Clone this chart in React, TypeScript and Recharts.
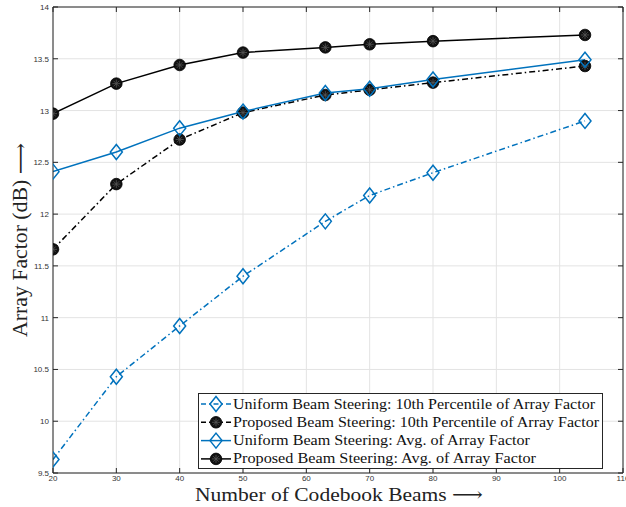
import React from 'react';
import { LineChart, Line, XAxis, YAxis, CartesianGrid, Legend } from 'recharts';

const beams = [20, 30, 40, 50, 63, 70, 80, 104];
const uniform10th = [9.63, 10.43, 10.92, 11.4, 11.93, 12.18, 12.4, 12.9];
const proposed10th = [11.66, 12.29, 12.72, 12.98, 13.15, 13.2, 13.27, 13.43];
const uniformAvg = [12.41, 12.6, 12.83, 12.99, 13.17, 13.21, 13.3, 13.49];
const proposedAvg = [12.97, 13.26, 13.44, 13.56, 13.61, 13.64, 13.67, 13.73];
const xTicks = [20, 30, 40, 50, 60, 70, 80, 90, 100, 110];
const yTicks = [9.5, 10, 10.5, 11, 11.5, 12, 12.5, 13, 13.5, 14];

const BLUE = '#0072BD';
const DASHDOT = '6 3 1.5 3';

const series = [
  { key: 'u10', name: 'Uniform Beam Steering: 10th Percentile of Array Factor', color: BLUE, dash: DASHDOT, marker: 'diamond', len: 362 },
  { key: 'p10', name: 'Proposed Beam Steering: 10th Percentile of Array Factor', color: '#000', dash: DASHDOT, marker: 'circle', len: 366 },
  { key: 'uavg', name: 'Uniform Beam Steering: Avg. of Array Factor', color: BLUE, dash: undefined, marker: 'diamond', len: 297 },
  { key: 'pavg', name: 'Proposed Beam Steering: Avg. of Array Factor', color: '#000', dash: undefined, marker: 'circle', len: 303 },
];

const data = beams.map((b, i) => ({
  beams: b,
  u10: uniform10th[i],
  p10: proposed10th[i],
  uavg: uniformAvg[i],
  pavg: proposedAvg[i],
}));

const TICK_FONT = 'Liberation Sans, Arial, sans-serif';
const SERIF = 'Liberation Serif, DejaVu Serif, serif';
const AXIS = '#262626';

function Marker({ type, cx, cy }: { type: string; cx: number; cy: number }) {
  if (type === 'diamond') {
    const w = 6, h = 7.5;
    return (
      <path
        d={`M${cx},${cy - h} L${cx + w},${cy} L${cx},${cy + h} L${cx - w},${cy} Z`}
        fill="none"
        stroke={BLUE}
        strokeWidth={1.5}
      />
    );
  }
  const r = 5.8;
  const a = 4;
  const d = a * 0.707;
  return (
    <g>
      <circle cx={cx} cy={cy} r={r} fill="#111" stroke="#000" strokeWidth={0.8} />
      <path
        d={`M${cx - a},${cy} L${cx + a},${cy} M${cx},${cy - a} L${cx},${cy + a} M${cx - d},${cy - d} L${cx + d},${cy + d} M${cx - d},${cy + d} L${cx + d},${cy - d}`}
        stroke="#555"
        strokeWidth={0.8}
      />
    </g>
  );
}

const makeDot = (type: string) => (props: any) => {
  const { cx, cy, index } = props;
  if (cx == null || cy == null) return <g key={index} />;
  return <Marker key={index} type={type} cx={cx} cy={cy} />;
};

const LeftTick = (props: any) => {
  const { x, y, payload } = props;
  return (
    <g>
      <line x1={x} y1={y} x2={x + 5} y2={y} stroke={AXIS} strokeWidth={1} />
      <text x={x - 4} y={y + 3} textAnchor="end" fontSize={8} fontFamily={TICK_FONT} fill="#333">
        {String(payload.value)}
      </text>
    </g>
  );
};
const RightTick = (props: any) => {
  const { x, y } = props;
  return <line x1={x - 5} y1={y} x2={x} y2={y} stroke={AXIS} strokeWidth={1} />;
};
const BottomTick = (props: any) => {
  const { x, y, payload } = props;
  return (
    <g>
      <line x1={x} y1={y} x2={x} y2={y - 5} stroke={AXIS} strokeWidth={1} />
      <text x={x} y={y + 7.5} textAnchor="middle" fontSize={8} fontFamily={TICK_FONT} fill="#333">
        {String(payload.value)}
      </text>
    </g>
  );
};
const TopTick = (props: any) => {
  const { x, y } = props;
  return <line x1={x} y1={y} x2={x} y2={y + 5} stroke={AXIS} strokeWidth={1} />;
};

const LegendBox = () => (
  <div
    style={{
      width: 403,
      height: 74,
      border: `1px solid ${AXIS}`,
      background: '#fff',
      boxSizing: 'content-box',
    }}
  >
    <svg width={403} height={74}>
      {series.map((s, i) => {
        const cy = 10 + i * 18.3;
        return (
          <g key={s.key}>
            <line x1={2} y1={cy} x2={32} y2={cy} stroke={s.color} strokeWidth={1.5} strokeDasharray={s.dash ? '5 3 1.5 3' : undefined} />
            <Marker type={s.marker} cx={17} cy={cy} />
            <text
              x={34}
              y={cy + 4.5}
              fontSize={15}
              fontFamily={SERIF}
              fill="#111"
              textLength={s.len}
              lengthAdjust="spacingAndGlyphs"
            >
              {s.name}
            </text>
          </g>
        );
      })}
    </svg>
  </div>
);

export default function App() {
  return (
    <div style={{ position: 'absolute', left: 0, top: 0, width: 626, height: 507, background: '#fff' }}>
      <LineChart width={626} height={507} data={data} margin={{ top: 0, right: 0, bottom: 4, left: 8 }}>
        <CartesianGrid stroke="#e3e3e3" strokeWidth={1} />
        <XAxis
          dataKey="beams"
          type="number"
          domain={[20, 110]}
          ticks={xTicks}
          interval={0}
          height={30}
          tickSize={0}
          tickMargin={0}
          axisLine={{ stroke: AXIS }}
          tickLine={false}
          tick={BottomTick}
          allowDataOverflow
        />
        <XAxis
          xAxisId="top"
          orientation="top"
          dataKey="beams"
          type="number"
          domain={[20, 110]}
          ticks={xTicks}
          interval={0}
          height={7}
          tickSize={0}
          tickMargin={0}
          axisLine={{ stroke: AXIS }}
          tickLine={false}
          tick={TopTick}
          allowDataOverflow
        />
        <YAxis
          type="number"
          domain={[9.5, 14]}
          ticks={yTicks}
          interval={0}
          width={45}
          tickSize={0}
          tickMargin={0}
          axisLine={{ stroke: AXIS }}
          tickLine={false}
          tick={LeftTick}
          allowDataOverflow
        />
        <YAxis
          yAxisId="right"
          orientation="right"
          type="number"
          domain={[9.5, 14]}
          ticks={yTicks}
          interval={0}
          width={3}
          tickSize={0}
          tickMargin={0}
          axisLine={{ stroke: AXIS }}
          tickLine={false}
          tick={RightTick}
          allowDataOverflow
        />
        {series.map((s) => (
          <Line
            key={s.key}
            dataKey={s.key}
            name={s.name}
            stroke={s.color}
            strokeWidth={1.5}
            strokeDasharray={s.dash}
            dot={makeDot(s.marker)}
            activeDot={false}
            isAnimationActive={false}
            type="linear"
          />
        ))}
        <Legend
          layout="vertical"
          align="center"
          verticalAlign="middle"
          content={() => <LegendBox />}
          wrapperStyle={{ position: 'absolute', left: 198, top: 393, width: 405, height: 76 }}
        />
      </LineChart>
      <svg width={626} height={507} style={{ position: 'absolute', left: 0, top: 0, pointerEvents: 'none' }}>
        <text x={339} y={501} textAnchor="middle" fontSize={19} fontFamily={SERIF} fill="#222" textLength={288} lengthAdjust="spacingAndGlyphs">
          Number of Codebook Beams ⟶
        </text>
        <text x={27} y={240} transform="rotate(-90 27 240)" textAnchor="middle" fontSize={20} fontFamily={SERIF} fill="#222" textLength={194} lengthAdjust="spacingAndGlyphs">
          Array Factor (dB) ⟶
        </text>
      </svg>
    </div>
  );
}
